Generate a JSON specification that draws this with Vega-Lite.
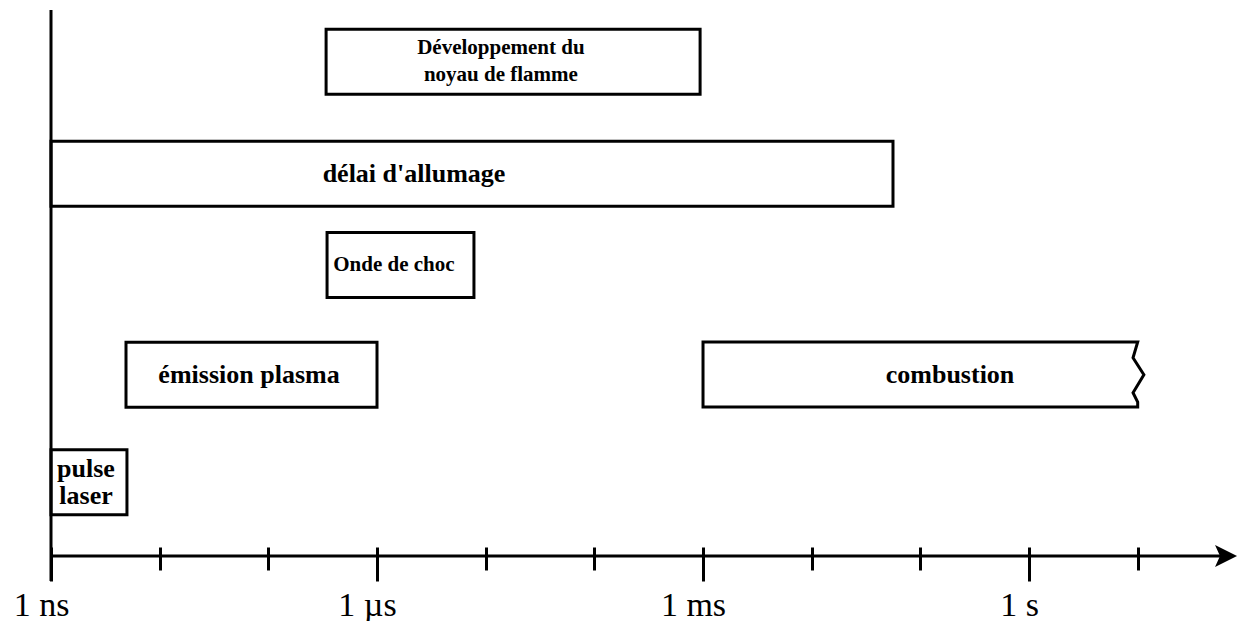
{
  "$schema": "https://vega.github.io/schema/vega-lite/v6.json",
  "width": 1186,
  "height": 546,
  "autosize": {"type": "none"},
  "padding": {"left": 51, "top": 10, "right": 1, "bottom": 65},
  "background": "white",
  "config": {"view": {"stroke": null}},
  "datasets": {
    "phases": [
      {"label": "Développement du\nnoyau de flamme", "start": 3.4e-7, "end": 9.4e-4, "lane": 9.05, "label_at": 1.38e-5},
      {"label": "délai d'allumage", "start": 1e-9, "end": 0.056, "lane": 7.0, "label_at": 2.19e-6},
      {"label": "Onde de choc", "start": 3.47e-7, "end": 7.8e-6, "lane": 5.33, "label_at": 1.43e-6},
      {"label": "émission plasma", "start": 4.9e-9, "end": 1e-6, "lane": 3.32, "label_at": 6.64e-8},
      {"label": "combustion", "start": 1e-3, "end": 10, "lane": 3.32, "label_at": 0.1875},
      {"label": "pulse\nlaser", "start": 1e-9, "end": 5e-9, "lane": 1.35, "label_at": 2.1e-9}
    ],
    "combustion_outline": [
      {"t": 1e-3, "level": 3.92, "order": 1},
      {"t": 10, "level": 3.92, "order": 2},
      {"t": 9.06, "level": 3.63, "order": 3},
      {"t": 11.4, "level": 3.32, "order": 4},
      {"t": 9.06, "level": 2.99, "order": 5},
      {"t": 10, "level": 2.82, "order": 6},
      {"t": 10, "level": 2.73, "order": 7},
      {"t": 1e-3, "level": 2.73, "order": 8},
      {"t": 1e-3, "level": 3.92, "order": 9}
    ]
  },
  "layer": [
    {
      "data": {"name": "phases"},
      "transform": [{"filter": "datum.label != 'combustion'"}],
      "mark": {"type": "bar", "orient": "horizontal", "fill": "white", "stroke": "black", "strokeWidth": 3, "size": 65},
      "encoding": {
        "x": {
          "field": "start",
          "type": "quantitative",
          "scale": {"type": "log", "domain": [1e-9, 82], "nice": false, "padding": 0},
          "axis": {
            "values": [1e-9, 1e-8, 1e-7, 1e-6, 1e-5, 1e-4, 1e-3, 1e-2, 1e-1, 1, 10],
            "domain": false,
            "grid": false,
            "title": null,
            "offset": -9,
            "ticks": true,
            "tickColor": "black",
            "tickWidth": 3,
            "tickSize": {"condition": {"test": "round(log(datum.value)/LN10) % 3 == 0", "value": 34}, "value": 23},
            "labelExpr": "round(log(datum.value)/LN10) == -9 ? '1 ns' : round(log(datum.value)/LN10) == -6 ? '1 µs' : round(log(datum.value)/LN10) == -3 ? '1 ms' : round(log(datum.value)/LN10) == 0 ? '1 s' : ''",
            "labelFont": "Liberation Serif",
            "labelFontSize": 34,
            "labelColor": "black",
            "labelBaseline": "alphabetic",
            "labelPadding": 34,
            "labelOffset": -10,
            "labelFlush": false,
            "labelOverlap": false,
            "labelBound": false
          }
        },
        "x2": {"field": "end"},
        "y": {"field": "lane", "type": "quantitative", "scale": {"domain": [0, 10], "nice": false, "zero": false, "padding": 0}, "axis": null}
      }
    },
    {
      "data": {"name": "combustion_outline"},
      "mark": {"type": "line", "color": "black", "strokeWidth": 3, "strokeJoin": "miter", "strokeCap": "square"},
      "encoding": {
        "x": {"field": "t", "type": "quantitative"},
        "y": {"field": "level", "type": "quantitative"},
        "order": {"field": "order", "type": "quantitative"}
      }
    },
    {
      "data": {"values": [{}]},
      "mark": {"type": "rule", "color": "black", "strokeWidth": 3},
      "encoding": {
        "x": {"datum": 1e-9, "type": "quantitative"},
        "y": {"datum": 10, "type": "quantitative"},
        "y2": {"datum": -0.458}
      }
    },
    {
      "data": {"values": [{}]},
      "mark": {"type": "rule", "color": "black", "strokeWidth": 3},
      "encoding": {
        "x": {"datum": 1e-9, "type": "quantitative"},
        "x2": {"datum": 60},
        "y": {"datum": 0, "type": "quantitative"}
      }
    },
    {
      "data": {"values": [{}]},
      "mark": {"type": "point", "shape": "M -1 -1 L 1 0 L -1 1 L -0.55 0 Z", "filled": true, "color": "black", "opacity": 1, "size": 484},
      "encoding": {
        "x": {"datum": 65, "type": "quantitative"},
        "y": {"datum": 0, "type": "quantitative"}
      }
    },
    {
      "data": {"name": "phases"},
      "transform": [{"filter": "indexof(datum.label, 'flamme') < 0 && indexof(datum.label, 'pulse') < 0"}],
      "mark": {"type": "text", "font": "Liberation Serif", "fontWeight": "bold", "color": "black", "baseline": "middle", "align": "center"},
      "encoding": {
        "x": {"field": "label_at", "type": "quantitative"},
        "y": {"field": "lane", "type": "quantitative"},
        "text": {"field": "label"},
        "size": {"condition": {"test": "datum.label == 'Onde de choc'", "value": 21}, "value": 26}
      }
    },
    {
      "data": {"name": "phases"},
      "transform": [{"filter": "indexof(datum.label, 'flamme') >= 0 || indexof(datum.label, 'pulse') >= 0"}],
      "mark": {"type": "text", "font": "Liberation Serif", "fontWeight": "bold", "color": "black", "baseline": "middle", "align": "center", "lineBreak": "\n", "lineHeight": 27, "dy": -13.5},
      "encoding": {
        "x": {"field": "label_at", "type": "quantitative"},
        "y": {"field": "lane", "type": "quantitative"},
        "text": {"field": "label"},
        "size": {"condition": {"test": "indexof(datum.label, 'flamme') >= 0", "value": 21}, "value": 26}
      }
    }
  ]
}
